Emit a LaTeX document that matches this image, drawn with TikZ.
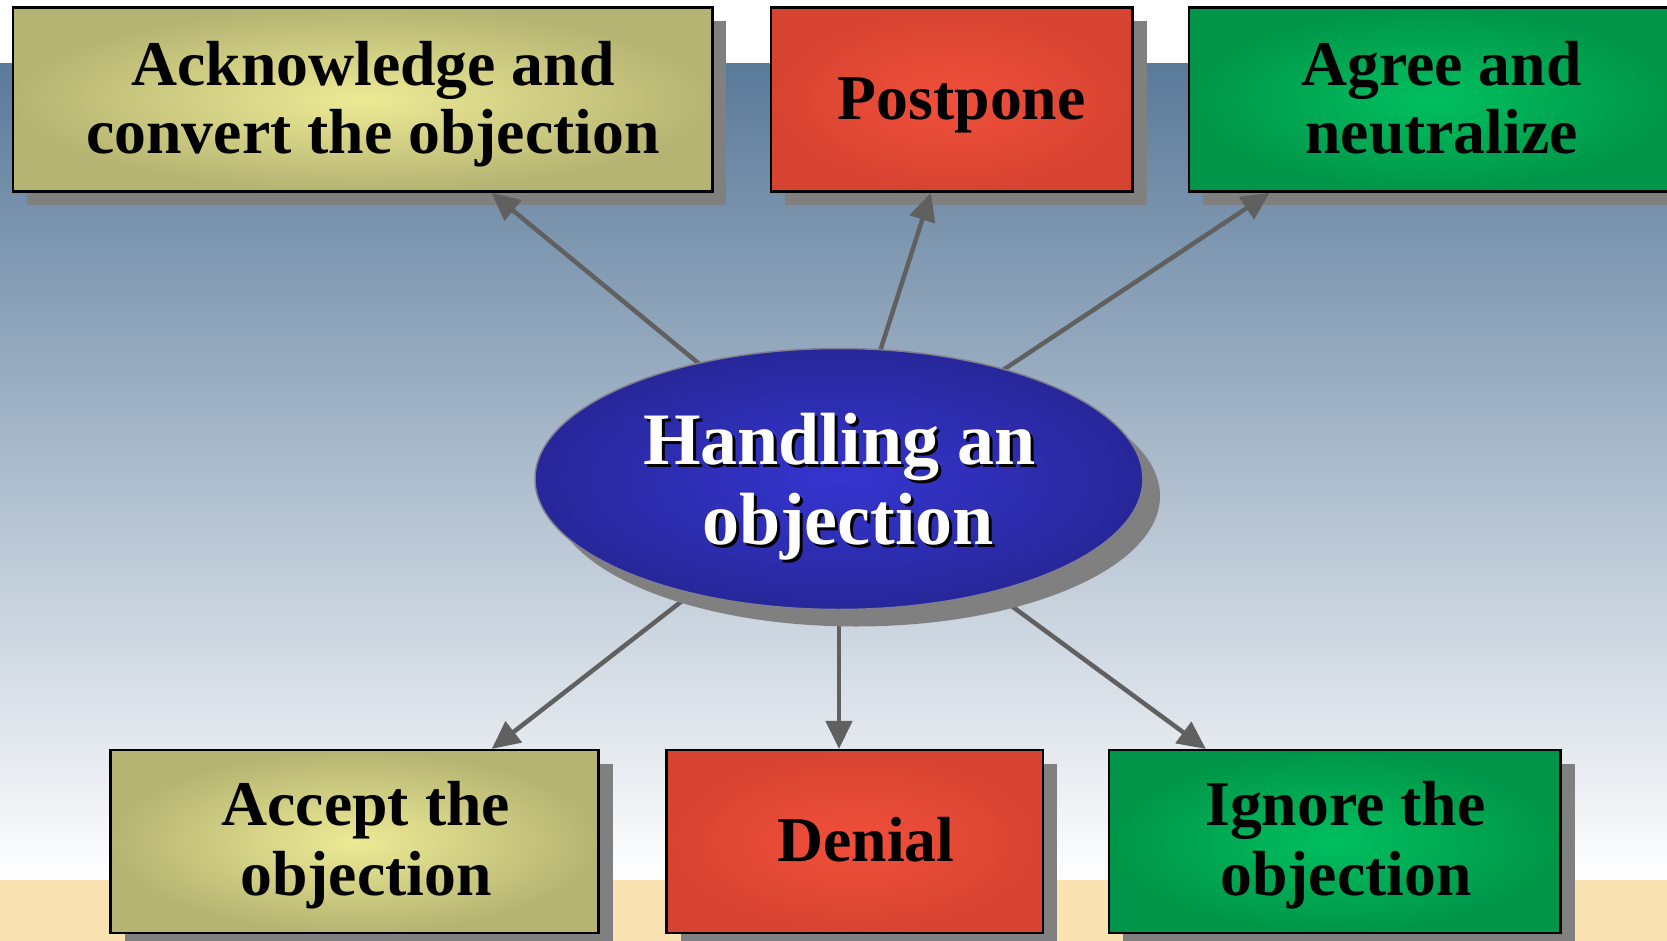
\documentclass[tikz,border=0pt]{standalone}
\usepackage{fontspec}
\setmainfont{Liberation Serif}
\usetikzlibrary{shadows,arrows.meta,calc,shapes.geometric}
\definecolor{bgtop}{HTML}{5A7A9A}
\definecolor{beige}{HTML}{FBE2B3}
\definecolor{olin}{HTML}{EDEA95}
\definecolor{olout}{HTML}{B5B472}
\definecolor{redin}{HTML}{F14F3A}
\definecolor{redout}{HTML}{D64431}
\definecolor{grnin}{HTML}{00BF5F}
\definecolor{grnout}{HTML}{009548}
\definecolor{ellin}{HTML}{3535D0}
\definecolor{ellout}{HTML}{27279A}
\definecolor{ellborder}{HTML}{7F7F8F}
\definecolor{arrowc}{HTML}{606060}
\definecolor{shadowc}{HTML}{808080}
\newcommand{\shadowtext}[1]{\rlap{\kern3pt\raisebox{-3pt}{\textcolor{black}{#1}}}#1}
\pgfdeclarelayer{bg}
\pgfdeclarelayer{boxes}
\pgfdeclarelayer{arr}
\pgfsetlayers{bg,boxes,arr,main}
\begin{document}
\begin{tikzpicture}[x=1pt,y=-1pt,
  box/.style={rectangle, draw=black, line width=2.5pt, inner sep=0pt,
    drop shadow={shadow xshift=14pt, shadow yshift=-14pt, fill=shadowc, opacity=1}},
  olivebox/.style={box, inner color=olin, outer color=olout},
  redbox/.style={box, inner color=redin, outer color=redout},
  greenbox/.style={box, inner color=grnin, outer color=grnout},
  topsize/.style={minimum height=184pt},
  botsize/.style={minimum height=183pt},
  lbl/.style={font=\fontsize{63.7}{70}\selectfont\bfseries, inner sep=0pt, anchor=base, text=black},
  etxt/.style={font=\fontsize{74}{80}\selectfont\bfseries, inner sep=0pt, anchor=base, text=white},
  conn/.style={draw=arrowc, line width=4.5pt, -{Triangle[length=28pt,width=26pt]}}
]
\useasboundingbox (0,0) rectangle (1667,941);
\clip (0,0) rectangle (1667,941);

\begin{pgfonlayer}{bg}
  \fill[white] (0,0) rectangle (1667,941);
  \shade[top color=bgtop, bottom color=white] (0,64) rectangle (1667,880);
  \fill[beige] (0,880) rectangle (1667,941);
\end{pgfonlayer}

% central ellipse
\node[ellipse, minimum width=608pt, minimum height=261pt, inner sep=0pt,
      draw=ellborder, line width=1.5pt, inner color=ellin, outer color=ellout,
      drop shadow={shadow xshift=17pt, shadow yshift=-17pt, fill=shadowc, opacity=1}]
      (ell) at (839,479) {};
\node[etxt] (h1) at (839.5,464) {\shadowtext{Handling an}};
\node[etxt] (h2) at (848,544) {\shadowtext{objection}};

% boxes
\begin{pgfonlayer}{boxes}
  \node[olivebox, topsize, minimum width=699.7pt] (ack) at (362.6,99.5) {};
  \node[redbox,   topsize, minimum width=361.5pt] (pos) at (951.8,99.5) {};
  \node[greenbox, topsize, minimum width=486pt]   (agr) at (1432,99.5) {};
  \node[olivebox, botsize, minimum width=488pt]   (acc) at (354.6,841.7) {};
  \node[redbox,   botsize, minimum width=376.4pt] (den) at (854.8,841.7) {};
  \node[greenbox, botsize, minimum width=451.7pt] (ign) at (1334.85,841.7) {};
\end{pgfonlayer}

% box texts
\node[lbl] (ack1) at (373,86) {Acknowledge and};
\node[lbl] (ack2) at (373,154) {convert the objection};
\node[lbl] (pos1) at (961.8,120) {Postpone};
\node[lbl] (agr1) at (1441.5,86) {Agree and};
\node[lbl] (agr2) at (1441.5,154) {neutralize};
\node[lbl] (acc1) at (365.8,825.7) {Accept the};
\node[lbl] (acc2) at (366,895) {objection};
\node[lbl] (den1) at (866,861.7) {Denial};
\node[lbl] (ign1) at (1345.4,825.7) {Ignore the};
\node[lbl] (ign2) at (1346,895) {objection};

% connectors
\begin{pgfonlayer}{arr}
  \draw[conn] (ell.center) -- ($(ack.south west)!0.6835!(ack.south east)$);
  \draw[conn] (ell.center) -- ($(pos.south west)!0.4426!(pos.south east)$);
  \draw[conn] (ell.center) -- ($(agr.south west)+(82,0)$);
  \draw[conn] (ell.center) -- ($(acc.north west)!0.7795!(acc.north east)$);
  \draw[conn] (ell.center) -- (ell.center |- den.north);
  \draw[conn] (ell.center) -- ($(ign.north west)!0.216!(ign.north east)$);
\end{pgfonlayer}
\end{tikzpicture}
\end{document}
